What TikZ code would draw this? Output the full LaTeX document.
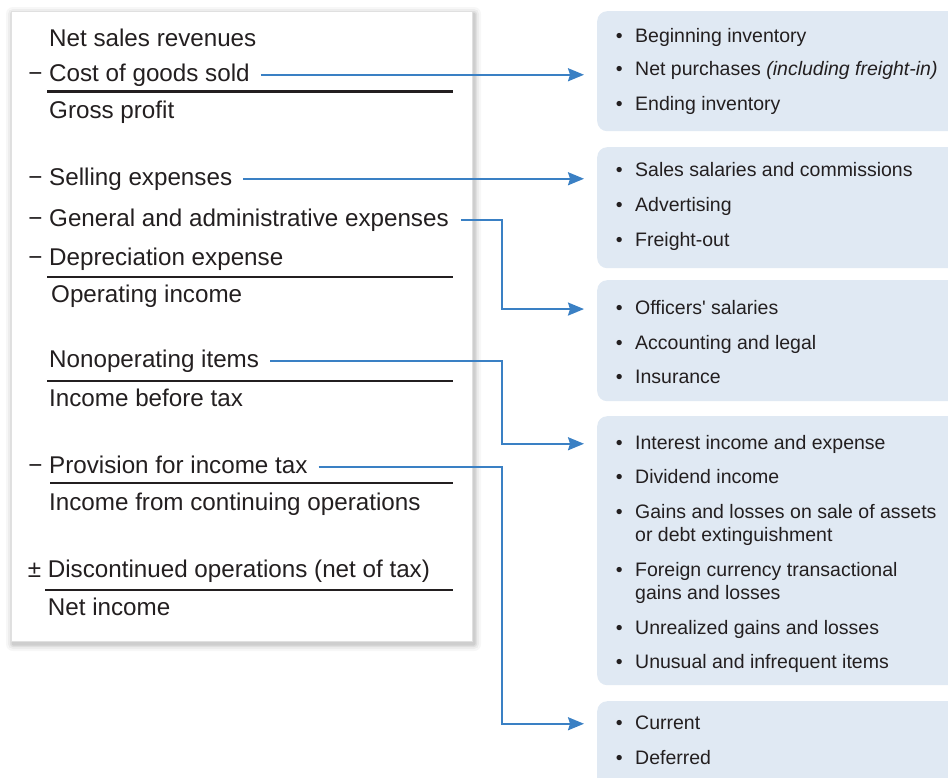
\documentclass[tikz,border=0pt]{standalone}
\usepackage{fontspec}
\setmainfont{Liberation Sans}
\usepackage{xcolor}
\usepackage{tikz}
\usetikzlibrary{calc}
\usetikzlibrary{arrows.meta}
\definecolor{ink}{HTML}{231F20}
\definecolor{linkblue}{HTML}{3A80C4}
\definecolor{panelblue}{HTML}{E0E9F3}
\newcommand{\lsign}[1]{\llap{#1\ }}
\newcommand{\bul}{\llap{\textbullet\hspace{12.6pt}}}
\tikzset{
  stmt/.style={anchor=base west, inner sep=0, text=ink, font=\fontsize{24.2}{28}\selectfont, text height=17.5, text depth=5},
  item/.style={anchor=base west, inner sep=0, text=ink, font=\fontsize{19.5}{23}\selectfont, text height=14.5, text depth=4},
  twoline/.style={anchor=base west, inner sep=0, text=ink, font=\fontsize{19.5}{23}\selectfont, align=left},
  panel/.style={anchor=north west, fill=panelblue, rounded corners=10, minimum width=380, inner sep=0},
  link/.style={linkblue, line width=2, -{Stealth[length=16pt,width=13pt,inset=2pt]}, shorten >=13pt},
  rule/.style={ink, line width=2.4}
}

\begin{document}
\begin{tikzpicture}[x=1pt, y=-1pt]
\useasboundingbox (0,0) rectangle (948,777);
% income statement sheet
\foreach \s/\o in {7/.03,5/.04,3/.06,1.5/.08} {
 \fill[black, opacity=\o, rounded corners=\s] (13-\s,14-\s) rectangle (474+\s,644+\s);
}
\fill[white] (11,11) rectangle (472,641);
\draw[black!12, line width=.6] (11,11) rectangle (472,641);

\node[stmt] (sales) at (49,46) {Net sales revenues};
\node[stmt] (cogs) at (49,81) {\lsign{−}Cost of goods sold};
\node[stmt] (gross) at (49,118.3) {Gross profit};
\node[stmt] (selling) at (49,185) {\lsign{−}Selling expenses};
\node[stmt] (admin) at (49,226) {\lsign{−}General and administrative expenses};
\node[stmt] (deprec) at (49,265) {\lsign{−}Depreciation expense};
\node[stmt] (opinc) at (51,302.7) {Operating income};
\node[stmt] (nonop) at (49,367.7) {Nonoperating items};
\node[stmt] (pretax) at (49,406) {Income before tax};
\node[stmt] (provision) at (49,473.3) {\lsign{−}Provision for income tax};
\node[stmt] (contops) at (49,510) {Income from continuing operations};
\node[stmt] (discops) at (47.7,577.3) {\lsign{±}Discontinued operations (net of tax)};
\node[stmt] (netinc) at (47.7,615) {Net income};

\draw[rule] (47,91.5) -- (453,91.5);
\draw[rule] (47,276.7) -- (453,276.7);
\draw[rule] (47,380.7) -- (453,380.7);
\draw[rule] (50,482.7) -- (453,482.7);
\draw[rule] (45,590) -- (453,590);

% detail panels
\node[panel, minimum height=120] (cogsbox) at (597,11) {};
\node[panel, minimum height=121] (sellbox) at (597,147) {};
\node[panel, minimum height=121] (adminbox) at (597,280) {};
\node[panel, minimum height=269] (otherbox) at (597,416) {};
\node[panel, minimum height=100] (taxbox) at (597,701) {};

\node[item] (begin) at (635,42.3) {\bul Beginning inventory};
\node[item] (purch) at (635,75.7) {\bul Net purchases \textit{(including freight-in)}};
\node[item] (ending) at (635,110) {\bul Ending inventory};

\node[item] (salaries) at (635,176) {\bul Sales salaries and commissions};
\node[item] (advert) at (635,211.7) {\bul Advertising};
\node[item] (freight) at (635,246) {\bul Freight-out};

\node[item] (officers) at (635,314.3) {\bul Officers\textquotesingle\ salaries};
\node[item] (legal) at (635,349) {\bul Accounting and legal};
\node[item] (insur) at (635,383.3) {\bul Insurance};

\node[item] (interest) at (635,449) {\bul Interest income and expense};
\node[item] (divid) at (635,483) {\bul Dividend income};
% two-line items: base is the last line
\node[twoline] (gains) at (635,541) {\bul Gains and losses on sale of assets\\or debt extinguishment};
\node[twoline] (forex) at (635,599) {\bul Foreign currency transactional\\gains and losses};
\node[item] (unreal) at (635,634) {\bul Unrealized gains and losses};
\node[item] (unusual) at (635,668.7) {\bul Unusual and infrequent items};

\node[item] (current) at (635,729) {\bul Current};
\node[item] (deferred) at (635,764) {\bul Deferred};

% connectors
\coordinate (lane) at (502,0);
\draw[link] ([xshift=11]cogs.east) -- (cogs.east -| cogsbox.west);
\draw[link] ([xshift=11]selling.east) -- (selling.east -| sellbox.west);
\draw[link] ([xshift=12]admin.east) -- (admin.east -| lane) |- (officers.center -| adminbox.west);
\draw[link] ([xshift=11]nonop.east) -- (nonop.east -| lane) |- (interest.center -| otherbox.west);
\draw[link] ([xshift=11]provision.east) -- (provision.east -| lane) |- (current.center -| taxbox.west);
\end{tikzpicture}
\end{document}
